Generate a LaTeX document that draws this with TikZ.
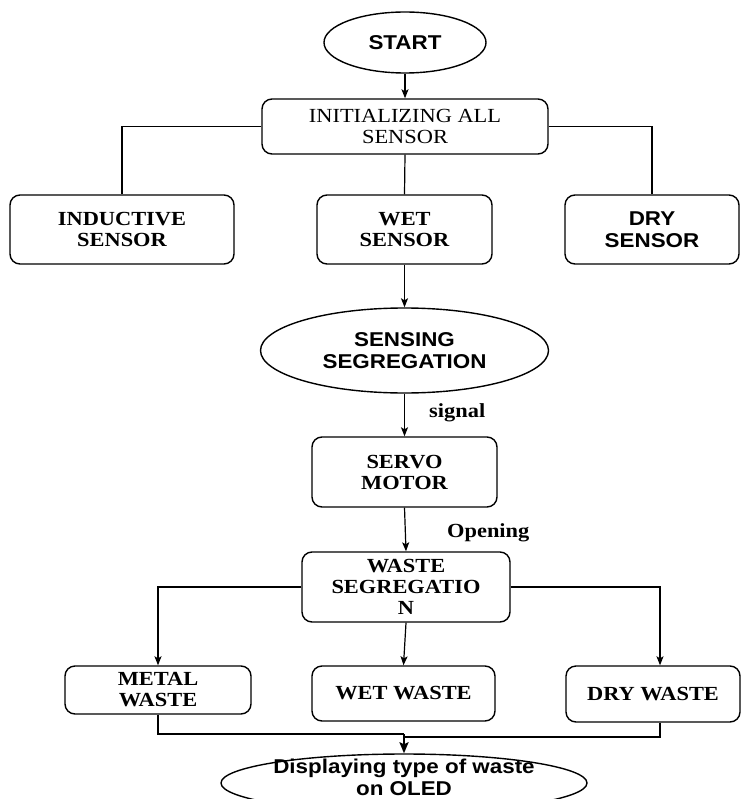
\documentclass[tikz,border=0pt]{standalone}
\usepackage{fontspec}
\usetikzlibrary{shapes.geometric,arrows.meta,calc}
\newfontfamily\tnrfont[FakeStretch=1.12]{Liberation Serif}
\newfontfamily\arfont[FakeStretch=1.12]{Liberation Sans}
\newcommand\tnrb{\tnrfont\bfseries\fontsize{20}{21}\selectfont}
\newcommand\tnrr{\tnrfont\fontsize{20}{21.5}\selectfont}
\newcommand\arb{\arfont\bfseries\fontsize{20}{21.5}\selectfont}
\newcommand\arbw{\arfont\bfseries\fontsize{20}{22}\selectfont}
\begin{document}
\begin{tikzpicture}[x=1pt,y=-1pt,
  box/.style={draw, line width=1.4pt, rounded corners=10pt, fill=white, inner sep=0pt, align=center, font=\tnrb},
  oval/.style={draw, ellipse, line width=1.4pt, fill=white, inner sep=0pt, align=center, font=\arb},
  conn/.style={line width=1.2pt},
  arr/.style={line width=1.2pt, -{Stealth[length=9pt,width=7pt,inset=2pt]}},
  thickconn/.style={line width=2.6pt},
  thickarr/.style={line width=2.6pt, -{Stealth[length=11pt,width=9pt,inset=2pt]}},
  lab/.style={font=\tnrb, inner sep=0pt}]
\useasboundingbox (0,0) rectangle (744,799);
\fill[white] (0,0) rectangle (744,799);
% nodes
\node[oval, minimum width=162pt, minimum height=61pt] (start) at (405,42.5) {START};
\node[box, font=\tnrr, minimum width=286pt, minimum height=55pt] (init) at (405,126.5) {INITIALIZING ALL\\SENSOR};
\node[box, minimum width=224pt, minimum height=69pt] (ind) at (122,229.5) {INDUCTIVE\\SENSOR};
\node[box, minimum width=175pt, minimum height=69pt] (wets) at (404.5,229.5) {WET\\SENSOR};
\node[box, font=\arb, minimum width=174pt, minimum height=69pt] (drys) at (652,229.5) {DRY\\SENSOR};
\node[oval, minimum width=288pt, minimum height=85pt] (sense) at (404.5,350.5) {SENSING\\SEGREGATION};
\node[box, minimum width=185pt, minimum height=70pt] (servo) at (404.5,472) {SERVO\\MOTOR};
\node[box, minimum width=208pt, minimum height=70pt] (wseg) at (406,587) {WASTE\\SEGREGATIO\\N};
\node[box, minimum width=186pt, minimum height=48pt] (metal) at (158,690) {METAL\\WASTE};
\node[box, minimum width=183pt, minimum height=55pt] (wetw) at (403.5,693.5) {WET WASTE};
\node[box, minimum width=174pt, minimum height=56pt] (dryw) at (653,694) {DRY WASTE};
\node[oval, font=\arbw, inner sep=-6pt, text depth=12pt, minimum width=366pt, minimum height=58pt] (disp) at (404,783) {Displaying type of waste\\on OLED};
% labels
\node[lab, anchor=base west] (sig) at (429,417) {signal};
\node[lab, anchor=base west] (opn) at (447,537) {Opening};
% merge points
\coordinate (mergeL) at (404,734);
\coordinate (mergeR) at (404,737);
% connectors
\draw[arr] (start) -- (init);
\draw[conn] (init.west) -| (ind.north);
\draw[conn] (init.east) -| (drys.north);
\draw[conn] (init.south) -- (wets.north);
\draw[arr] (wets.south) -- (sense.north);
\draw[arr] (sense.south) -- (servo.north);
\draw[arr] (servo.south) -- (wseg.north);
\draw[arr] (wseg.west) -| (metal.north);
\draw[arr] (wseg.east) -| ([xshift=7pt]dryw.north);
\draw[arr] (wseg.south) -- (wetw.north);
\draw[thickconn] (metal.south) |- (mergeL);
\draw[thickconn] ([xshift=7pt]dryw.south) |- (mergeR);
\draw[thickarr] (mergeL) -- (disp.north);
\end{tikzpicture}
\end{document}
